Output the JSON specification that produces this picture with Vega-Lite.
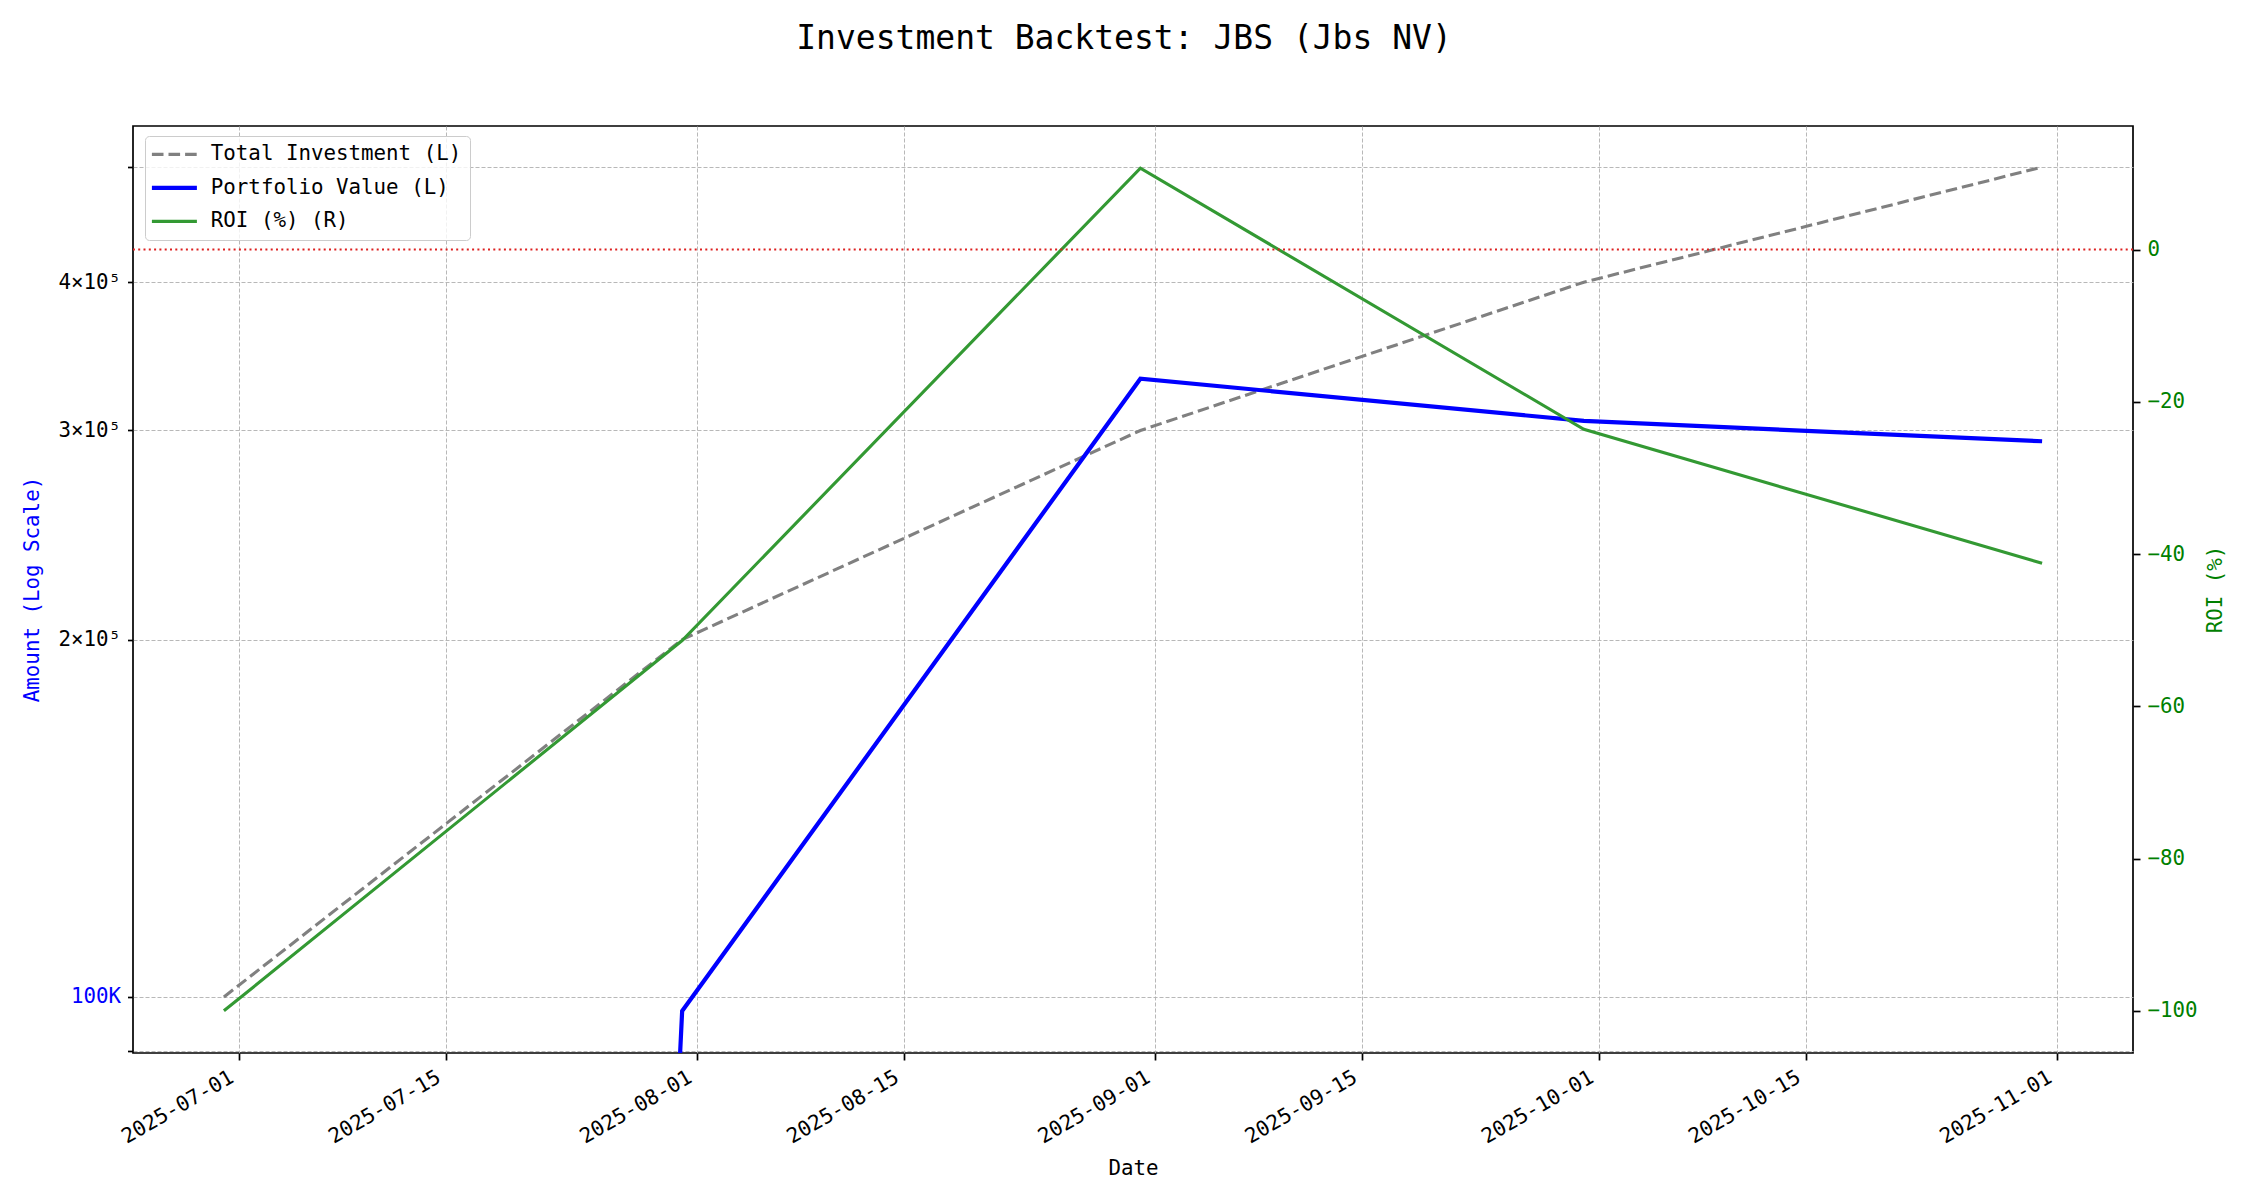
{
  "$schema": "https://vega.github.io/schema/vega-lite/v6.json",
  "width": 2000,
  "height": 927,
  "autosize": {"type": "none"},
  "padding": {"left": 133, "top": 126, "right": 117, "bottom": 147},
  "background": "white",
  "config": {
    "font": "DejaVu Sans Mono",
    "view": {"stroke": "black", "strokeWidth": 1.7},
    "axis": {
      "domain": false,
      "labelFont": "DejaVu Sans Mono",
      "labelFontSize": 20.8,
      "titleFont": "DejaVu Sans Mono",
      "titleFontSize": 20.8,
      "titleFontWeight": "normal",
      "tickColor": "black",
      "tickWidth": 1.7,
      "tickSize": 7,
      "labelColor": "black",
      "titleColor": "black",
      "gridColor": "#b0b0b0",
      "gridDash": [4, 2],
      "gridWidth": 1,
      "gridOpacity": 0.9
    },
    "legend": {
      "labelFont": "DejaVu Sans Mono"
    }
  },
  "title": {
    "text": "Investment Backtest: JBS (Jbs NV)",
    "font": "DejaVu Sans Mono",
    "fontSize": 33,
    "fontWeight": "normal",
    "color": "black",
    "anchor": "middle",
    "baseline": "alphabetic",
    "offset": 44,
    "dx": -9
  },
  "data": {
    "values": [
      {"date": "2025-06-30", "total": 100000, "portfolio": 0.001, "roi": -100},
      {"date": "2025-07-31", "total": 200000, "portfolio": 97300, "roi": -51.35},
      {"date": "2025-08-31", "total": 300000, "portfolio": 331700, "roi": 10.7},
      {"date": "2025-09-30", "total": 400000, "portfolio": 305600, "roi": -23.6},
      {"date": "2025-10-31", "total": 500000, "portfolio": 293800, "roi": -41.2}
    ]
  },
  "layer": [
    {
      "layer": [
        {
          "mark": {"type": "line", "strokeDash": [11.6, 5], "strokeWidth": 3.1, "clip": true},
          "encoding": {
            "x": {
              "field": "date",
              "type": "temporal",
              "scale": {
                "type": "utc",
                "domain": [
                  {"year": 2025, "month": 6, "date": 23, "hours": 20, "minutes": 24, "utc": true},
                  {"year": 2025, "month": 11, "date": 6, "hours": 3, "minutes": 36, "utc": true}
                ]
              },
              "axis": {
                "title": "Date",
                "titleX": 1000,
                "titleY": 115,
                "titleAlign": "center",
                "titleBaseline": "middle",
                "format": "%Y-%m-%d",
                "values": [
                  {"year": 2025, "month": 7, "date": 1, "utc": true},
                  {"year": 2025, "month": 7, "date": 15, "utc": true},
                  {"year": 2025, "month": 8, "date": 1, "utc": true},
                  {"year": 2025, "month": 8, "date": 15, "utc": true},
                  {"year": 2025, "month": 9, "date": 1, "utc": true},
                  {"year": 2025, "month": 9, "date": 15, "utc": true},
                  {"year": 2025, "month": 10, "date": 1, "utc": true},
                  {"year": 2025, "month": 10, "date": 15, "utc": true},
                  {"year": 2025, "month": 11, "date": 1, "utc": true}
                ],
                "labelAngle": -30,
                "labelAlign": "right",
                "labelBaseline": "top",
                "labelOffset": -12,
                "labelPadding": 7,
                "labelOverlap": false,
                "labelFlush": false,
                "labelBound": false,
                "grid": true
              }
            },
            "y": {
              "field": "total",
              "type": "quantitative",
              "scale": {"type": "log", "domain": [89700, 541500], "nice": false, "zero": false},
              "axis": {
                "title": "Amount (Log Scale)",
                "titleColor": "#0000ff",
                "titleX": -101,
                "titleY": 463,
                "titleAngle": 270,
                "titleAlign": "center",
                "titleBaseline": "middle",
                "values": [90000, 100000, 200000, 300000, 400000, 500000],
                "labelExpr": "round(datum.value) == 100000 ? '100K' : round(datum.value) == 200000 ? '2×10⁵' : round(datum.value) == 300000 ? '3×10⁵' : round(datum.value) == 400000 ? '4×10⁵' : ''",
                "labelColor": {"condition": {"test": "round(datum.value) == 100000", "value": "#0000ff"}, "value": "black"},
                "tickSize": 5.5,
                "labelPadding": 7,
                "labelOverlap": false,
                "labelBound": false,
                "labelFlush": false,
                "grid": true
              }
            },
            "color": {
              "datum": "Total Investment (L)",
              "type": "nominal",
              "scale": {
                "domain": ["Total Investment (L)", "Portfolio Value (L)", "ROI (%) (R)"],
                "range": ["#808080", "#0000ff", "#339933"]
              },
              "legend": {
                "title": null,
                "orient": "none",
                "legendX": 12,
                "legendY": 10,
                "symbolType": "stroke",
                "symbolSize": 2025,
                "symbolStrokeWidth": 3.1,
                "symbolOffset": 11,
                "labelFontSize": 20.8,
                "labelColor": "black",
                "labelOffset": 26,
                "labelLimit": 0,
                "rowPadding": 11.5,
                "padding": 8,
                "fillColor": "rgba(255,255,255,0.8)",
                "strokeColor": "#cccccc",
                "cornerRadius": 4,
                "encode": {
                  "symbols": {
                    "update": {
                      "strokeDash": {"signal": "datum.value === 'Total Investment (L)' ? [11.6, 5] : [1, 0]"},
                      "strokeWidth": {"signal": "datum.value === 'Portfolio Value (L)' ? 4.2 : 3.1"}
                    }
                  }
                }
              }
            }
          }
        },
        {
          "mark": {"type": "line", "strokeWidth": 4.2, "clip": true},
          "encoding": {
            "x": {"field": "date", "type": "temporal"},
            "y": {
              "field": "portfolio",
              "type": "quantitative",
              "scale": {"type": "log", "domain": [89700, 541500], "nice": false, "zero": false}
            },
            "color": {"datum": "Portfolio Value (L)", "type": "nominal"}
          }
        }
      ]
    },
    {
      "layer": [
        {
          "mark": {"type": "line", "strokeWidth": 3.1, "clip": true},
          "encoding": {
            "x": {"field": "date", "type": "temporal"},
            "y": {
              "field": "roi",
              "type": "quantitative",
              "scale": {"domain": [-105.54, 16.24], "nice": false, "zero": false},
              "axis": {
                "orient": "right",
                "title": "ROI (%)",
                "titleColor": "#008000",
                "titleX": 82,
                "titleY": 463,
                "titleAngle": 270,
                "titleAlign": "center",
                "titleBaseline": "middle",
                "values": [-100, -80, -60, -40, -20, 0],
                "labelExpr": "replace(datum.label, '-', '−')",
                "labelColor": "#008000",
                "labelPadding": 7,
                "labelOverlap": false,
                "labelBound": false,
                "labelFlush": false,
                "grid": false
              }
            },
            "color": {"datum": "ROI (%) (R)", "type": "nominal"}
          }
        },
        {
          "data": {"values": [{"zero": 0}]},
          "mark": {"type": "rule", "color": "#dd2020", "strokeDash": [2, 3.3], "strokeWidth": 2},
          "encoding": {
            "y": {"field": "zero", "type": "quantitative"}
          }
        }
      ]
    }
  ],
  "resolve": {"scale": {"y": "independent"}}
}
